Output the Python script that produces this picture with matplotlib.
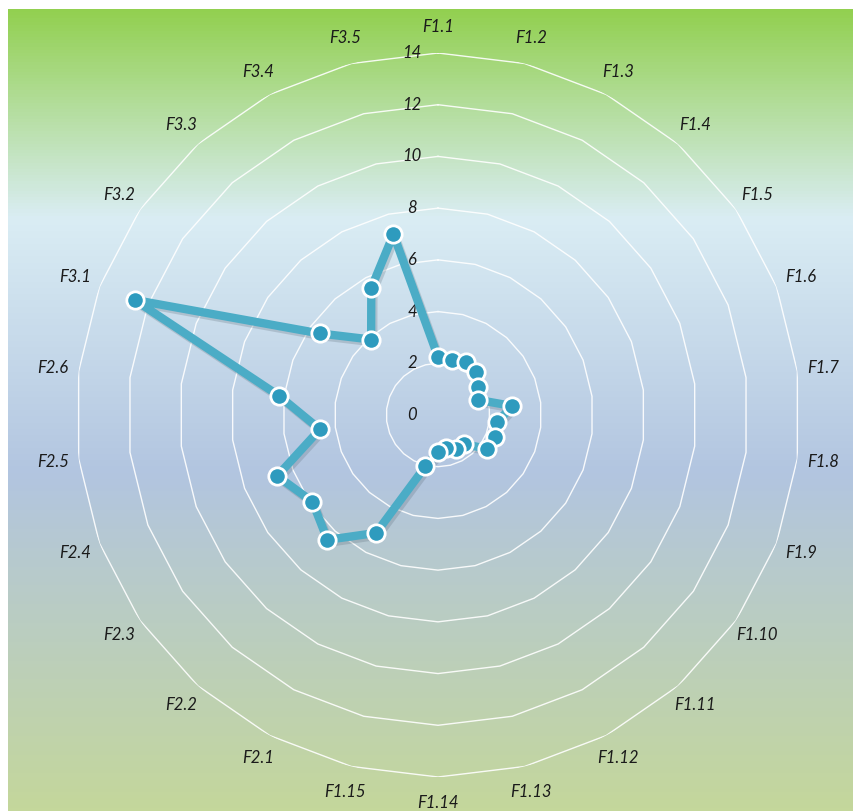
#!/usr/bin/env python3

# Radar chart of the F1/F2/F3 factor scores on a gradient background.

import matplotlib
matplotlib.use("Agg")
import matplotlib.pyplot as plt
import matplotlib.patheffects as pe
from matplotlib.colors import LinearSegmentedColormap
import numpy as np

# Categories, clockwise from the top
categories = (["F1.%d" % i for i in range(1, 16)] +
              ["F2.%d" % i for i in range(1, 7)] +
              ["F3.%d" % i for i in range(1, 6)])

# Values
values = [2.25, 2.2, 2.3, 2.2, 1.9, 1.65, 2.9, 2.3, 2.35, 2.3,
          1.5, 1.5, 1.3, 1.45, 2.05,
          5.15, 6.45, 5.9, 6.65, 4.6, 6.2,
          12.55, 5.55, 3.9, 5.55, 7.2]

ringValues = [2, 4, 6, 8, 10, 12, 14]
tickValues = [0, 2, 4, 6, 8, 10, 12, 14]

W, H = 854, 811
fig = plt.figure(figsize=(W / 100, H / 100), dpi=100)
fig.patch.set_facecolor("white")

# Gradient background (leaves a thin white strip at top and left)
bg = fig.add_axes([8 / W, 0, (W - 8) / W, (H - 9) / H])
bgMap = LinearSegmentedColormap.from_list(
    "bg", [(0.0, "#92D050"), (0.26, "#DAEDF4"),
           (0.58, "#B2C5E0"), (1.0, "#C4D79B")])
bg.imshow(np.linspace(0, 1, 256).reshape(-1, 1), aspect="auto",
          cmap=bgMap, extent=[0, 1, 0, 1])
bg.set_axis_off()

# Polar axes centred at (438, 415) px with radius 362 px
cx, cy, R = 438, 415, 362
ax = fig.add_axes([(cx - R) / W, (H - cy - R) / H, 2 * R / W, 2 * R / H],
                  projection="polar")
ax.set_theta_zero_location("N")
ax.set_theta_direction(-1)
ax.set_ylim(0, 14)
ax.patch.set_alpha(0)
ax.grid(False)
ax.spines["polar"].set_visible(False)
ax.set_xticks([])
ax.set_yticks([])

n = len(categories)
angles = np.arange(n) * 2 * np.pi / n
closedAngles = np.append(angles, angles[0])

# Polygon grid rings
for r in ringValues:
    ax.plot(closedAngles, [r] * (n + 1), color="white", linewidth=1.0,
            alpha=0.9, zorder=1)

# Category labels
labelFont = dict(family=["Lato", "DejaVu Sans"], style="italic",
                 size=12, color="#1A1A1A")
for a, name in zip(angles, categories):
    ax.text(a, 15.0, name, ha="center", va="center", clip_on=False,
            **labelFont)

# Value labels to the left of the top axis
for v in tickValues:
    ax.annotate(str(v), xy=(0, v), xytext=(-26, 0),
                textcoords="offset pixels", ha="center", va="center",
                annotation_clip=False, **labelFont)

# Data series
closedValues = values + values[:1]
shadow = [pe.SimpleLineShadow(offset=(1.5, -2), shadow_color="#5a6a76",
                              alpha=0.25), pe.Normal()]
ax.plot(closedAngles, closedValues, color="#4BACC6", linewidth=6,
        solid_joinstyle="round", zorder=3, path_effects=shadow)
ax.plot(angles, values, linestyle="none", marker="o", markersize=12.5,
        markerfacecolor="#2E9BBE", markeredgecolor="white",
        markeredgewidth=2, zorder=4)

fig.savefig("out.png", dpi=100)
